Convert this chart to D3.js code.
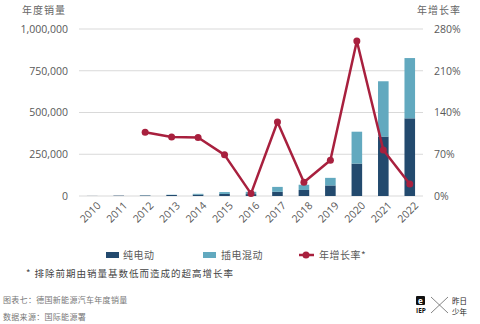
<!DOCTYPE html>
<html>
<head>
<meta charset="utf-8">
<script src="https://cdn.jsdelivr.net/npm/d3@7/dist/d3.min.js"></script>
<style>
  html, body { margin: 0; padding: 0; background: #fff; }
  svg { display: block; }
  .num { font-family: "Open Sans", "Noto Sans", sans-serif; }
  .cjk { font-family: "Noto Sans CJK SC", sans-serif; }
</style>
</head>
<body>
<svg id="chart" width="480" height="324"></svg>
<script>
// Annual new-energy vehicle sales in Germany
const years  = ["2010","2011","2012","2013","2014","2015","2016","2017","2018","2019","2020","2021","2022"];
const bev    = [541, 2154, 2956, 6051, 8522, 12363, 11410, 25056, 36062, 63281, 194000, 356000, 465000];
const phev   = [0, 0, 800, 1385, 4527, 11101, 13744, 29436, 31442, 45348, 191000, 331000, 361000];
const growth = [null, null, 107, 99, 98, 69, 4, 124, 23, 60, 260, 77, 20];

const leftTicks  = [0, 250000, 500000, 750000, 1000000];
const rightTicks = [0, 70, 140, 210, 280];

const C_BEV = "#234a6e", C_PHEV = "#62a9bf", C_LINE = "#a8203e";
const C_TEXT = "#595959", C_GRID = "#d9d9d9";

const svg = d3.select("#chart");
const m = { left: 79, right: 423, top: 29, bottom: 196 };

const x = d3.scaleBand().domain(years).range([m.left, m.right]).paddingInner(0.6).paddingOuter(0.3);
const yL = d3.scaleLinear().domain([0, 1000000]).range([m.bottom, m.top]);
const yR = d3.scaleLinear().domain([0, 280]).range([m.bottom, m.top]);

// gridlines
svg.append("g").selectAll("line").data(leftTicks).join("line")
  .attr("x1", m.left).attr("x2", m.right)
  .attr("y1", d => yL(d)).attr("y2", d => yL(d))
  .attr("stroke", C_GRID).attr("stroke-width", 1);

// left axis
const axL = svg.append("g").attr("transform", `translate(${m.left - 11},0)`)
  .call(d3.axisLeft(yL).tickValues(leftTicks).tickSize(0).tickPadding(0).tickFormat(d3.format(",")));
axL.select(".domain").remove();
axL.selectAll("text").attr("class", "num").attr("font-size", 10.5).attr("fill", C_TEXT);

// right axis
const axR = svg.append("g").attr("transform", `translate(${m.right + 11},0)`)
  .call(d3.axisRight(yR).tickValues(rightTicks).tickSize(0).tickPadding(0).tickFormat(d => d + "%"));
axR.select(".domain").remove();
axR.selectAll("text").attr("class", "num").attr("font-size", 10.5).attr("fill", C_TEXT);

// axis titles
svg.append("text").attr("class", "cjk").attr("x", 22).attr("y", 14).attr("letter-spacing", 1)
  .attr("font-size", 10).attr("fill", "#666").text("年度销量");
svg.append("text").attr("class", "cjk").attr("x", 461).attr("y", 14).attr("text-anchor", "end").attr("letter-spacing", 1)
  .attr("font-size", 10).attr("fill", "#666").text("年增长率");

// x axis labels, rotated
const axX = svg.append("g").attr("transform", `translate(0,${m.bottom + 5})`)
  .call(d3.axisBottom(x).tickSize(0).tickPadding(0));
axX.select(".domain").remove();
axX.selectAll("text").attr("class", "num").attr("font-size", 10.5).attr("fill", C_TEXT)
  .attr("text-anchor", "end").attr("dy", "0.7em")
  .attr("transform", "translate(4,0) rotate(-45)");

// stacked bars
const rows = years.map((yr, i) => ({ year: yr, bev: bev[i], phev: phev[i] }));
const stack = d3.stack().keys(["bev", "phev"])(rows);
const colors = { bev: C_BEV, phev: C_PHEV };
svg.append("g").selectAll("g").data(stack).join("g")
  .attr("fill", s => colors[s.key])
  .selectAll("rect").data(d => d).join("rect")
  .attr("x", d => x(d.data.year)).attr("width", x.bandwidth())
  .attr("y", d => yL(d[1])).attr("height", d => Math.max(0, yL(d[0]) - yL(d[1])));

// growth line
const pts = years.map((yr, i) => ({ year: yr, v: growth[i] })).filter(d => d.v !== null);
const line = d3.line().x(d => x(d.year) + x.bandwidth() / 2).y(d => yR(d.v));
svg.append("path").datum(pts).attr("d", line)
  .attr("fill", "none").attr("stroke", C_LINE).attr("stroke-width", 2.5).attr("stroke-linejoin", "round");
svg.append("g").selectAll("circle").data(pts).join("circle")
  .attr("cx", d => x(d.year) + x.bandwidth() / 2).attr("cy", d => yR(d.v))
  .attr("r", 3.5).attr("fill", C_LINE);

// legend
const lg = svg.append("g").attr("class", "cjk");
lg.append("rect").attr("x", 106).attr("y", 252).attr("width", 13).attr("height", 6).attr("fill", C_BEV);
lg.append("text").attr("x", 123).attr("y", 259).attr("font-size", 10).attr("letter-spacing", 0.5).attr("fill", C_TEXT).text("纯电动");
lg.append("rect").attr("x", 203).attr("y", 252).attr("width", 13).attr("height", 6).attr("fill", C_PHEV);
lg.append("text").attr("x", 221).attr("y", 259).attr("font-size", 10).attr("letter-spacing", 0.5).attr("fill", C_TEXT).text("插电混动");
lg.append("line").attr("x1", 299).attr("x2", 314).attr("y1", 255).attr("y2", 255)
  .attr("stroke", C_LINE).attr("stroke-width", 2.5);
lg.append("circle").attr("cx", 306).attr("cy", 255).attr("r", 3.5).attr("fill", C_LINE);
lg.append("text").attr("x", 319).attr("y", 259).attr("font-size", 10).attr("letter-spacing", 0.5).attr("fill", C_TEXT).text("年增长率*");

// footnote
svg.append("text").attr("class", "cjk").attr("x", 26).attr("y", 277).attr("letter-spacing", 1)
  .attr("font-size", 9.5).attr("fill", "#444").text("* 排除前期由销量基数低而造成的超高增长率");

// source lines
svg.append("text").attr("class", "cjk").attr("x", 3).attr("y", 303).attr("letter-spacing", 0.3)
  .attr("font-size", 8).attr("fill", "#777").text("图表七：德国新能源汽车年度销量");
svg.append("text").attr("class", "cjk").attr("x", 3).attr("y", 320).attr("letter-spacing", 0.3)
  .attr("font-size", 8).attr("fill", "#777").text("数据来源：国际能源署");

// logo
const logo = svg.append("g");
logo.append("rect").attr("x", 416).attr("y", 296).attr("width", 9).attr("height", 9).attr("rx", 1).attr("fill", "#111");
logo.append("text").attr("class", "num").attr("x", 418).attr("y", 304).attr("font-size", 8).attr("font-weight", "bold")
  .attr("fill", "#fff").text("e");
logo.append("text").attr("class", "num").attr("x", 421).attr("y", 313).attr("text-anchor", "middle")
  .attr("font-size", 6.5).attr("font-weight", "bold").attr("fill", "#111").text("IEP");
logo.append("line").attr("x1", 431).attr("y1", 297).attr("x2", 448).attr("y2", 313).attr("stroke", "#666").attr("stroke-width", 0.8);
logo.append("line").attr("x1", 448).attr("y1", 297).attr("x2", 431).attr("y2", 313).attr("stroke", "#666").attr("stroke-width", 0.8);
logo.append("text").attr("class", "cjk").attr("x", 452).attr("y", 304).attr("font-size", 7.5).attr("fill", "#222").text("昨日");
logo.append("text").attr("class", "cjk").attr("x", 452).attr("y", 315).attr("font-size", 7.5).attr("fill", "#222").text("少年");
</script>
</body>
</html>
